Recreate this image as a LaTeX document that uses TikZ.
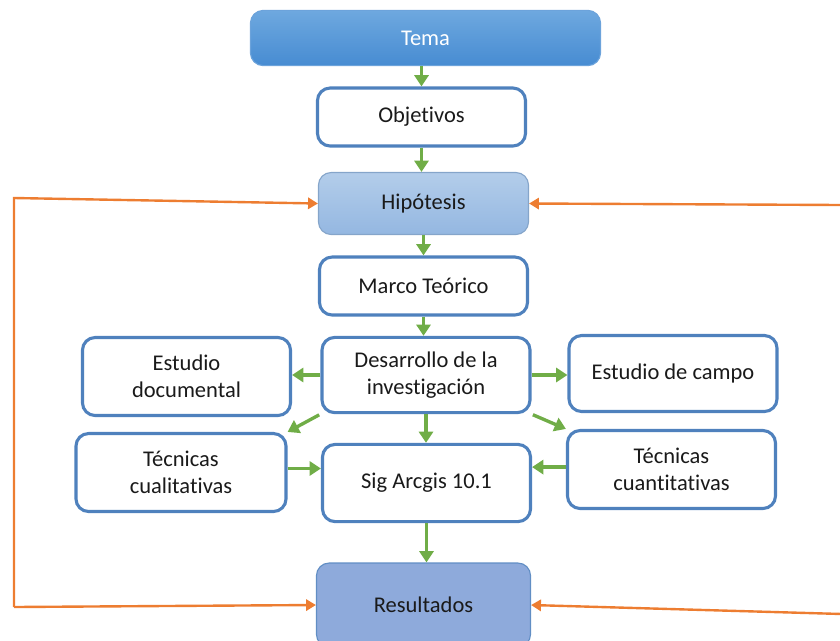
\documentclass[tikz,border=0pt]{standalone}
\usepackage{fontspec}
\setmainfont{Carlito}[RawFeature={-liga;-clig;-dlig}]
\usetikzlibrary{arrows.meta}

\definecolor{bordeazul}{HTML}{4F81BD}
\definecolor{verde}{HTML}{70AD47}
\definecolor{naranja}{HTML}{ED7D31}
\definecolor{texto}{HTML}{1A1A1A}
\definecolor{temaarriba}{HTML}{6EA8DF}
\definecolor{temaabajo}{HTML}{478CD2}
\definecolor{hiparriba}{HTML}{B3CDEA}
\definecolor{hipabajo}{HTML}{94B7E1}
\definecolor{resfondo}{HTML}{8EAADB}

\tikzset{
  caja/.style={draw=bordeazul, line width=2.2pt, rounded corners=9pt, fill=white,
    minimum width=5.2cm, minimum height=1.45cm, align=center, text=texto,
    font=\fontsize{16}{19.5}\selectfont},
  flecha/.style={-{Triangle[length=8pt,width=10pt]}, draw=verde, line width=2.4pt},
  retorno/.style={-{Triangle[length=7pt,width=8pt]}, draw=naranja, line width=1.7pt}
}

\begin{document}
\begin{tikzpicture}[x=0.025cm, y=-0.025cm]
  \useasboundingbox (0,0) rectangle (840,640);
  % cajas
  \node[caja, draw=temaabajo!80!white, line width=0.8pt, top color=temaarriba, bottom color=temaabajo, text=white,
        minimum width=8.75cm, minimum height=1.38cm] (tema) at (425.5, 38) {Tema};
  \node[caja] (obj) at (421.5, 117) {Objetivos};
  \node[caja, draw=hipabajo!90!black, line width=0.8pt, top color=hiparriba, bottom color=hipabajo,
        minimum width=5.25cm, minimum height=1.55cm] (hip) at (423.5, 203.5) {Hipótesis};
  \node[caja] (marco) at (423.5, 286) {Marco Teórico};
  \node[caja, minimum height=1.88cm] (des) at (426, 375) {Desarrollo de la\\investigación};
  \node[caja, minimum height=1.95cm] (edoc) at (186.5, 376.5) {Estudio\\documental};
  \node[caja, minimum height=1.9cm] (ecampo) at (673, 373.5) {Estudio de campo};
  \node[caja, minimum width=5.25cm, minimum height=1.95cm] (tcual) at (181, 472.5) {Técnicas\\cualitativas};
  \node[caja, minimum height=1.93cm] (sig) at (426.5, 483) {Sig Arcgis 10.1};
  \node[caja, minimum height=1.95cm] (tcuant) at (671.5, 469.5) {Técnicas\\cuantitativas};
  \node[caja, draw=bordeazul!90, line width=0.8pt, fill=resfondo,
        minimum width=5.35cm, minimum height=2.1cm] (res) at (423.5, 605) {Resultados};
  % flechas verdes
  \draw[flecha] (tema.south -| obj.north) -- (obj.north);
  \draw[flecha] (obj.south) -- (obj.south |- hip.north);
  \draw[flecha] (hip.south) -- (hip.south |- marco.north);
  \draw[flecha] (marco.south) -- (marco.south |- des.north);
  \draw[flecha] (des.west) -- (des.west -| edoc.east);
  \draw[flecha] (des.east) -- (des.east -| ecampo.west);
  \draw[flecha, shorten <=1pt] (des.south west) -- (tcual.north east);
  \draw[flecha, shorten <=1pt] (des.south east) -- (tcuant.north west);
  \draw[flecha] (des.south) -- (des.south |- sig.north);
  \draw[flecha] ([yshift=0.1cm]tcual.east) -- ([yshift=0.1cm]tcual.east -| sig.west);
  \draw[flecha] ([yshift=0.06cm]tcuant.west) -- ([yshift=0.06cm]tcuant.west -| sig.east);
  \draw[flecha] (sig.south) -- (sig.south |- res.north);
  % retornos
  \coordinate (izqA) at (14, 198);
  \coordinate (izqB) at (14, 607);
  \coordinate (derA) at (842, 205);
  \coordinate (derB) at (842, 614);
  \draw[retorno] (izqB) -- (izqA) -- (hip.west);
  \draw[retorno] (izqB) -- (res.west);
  \draw[retorno] (derA) -- (hip.east);
  \draw[retorno] (derB) -- (res.east);
\end{tikzpicture}
\end{document}
